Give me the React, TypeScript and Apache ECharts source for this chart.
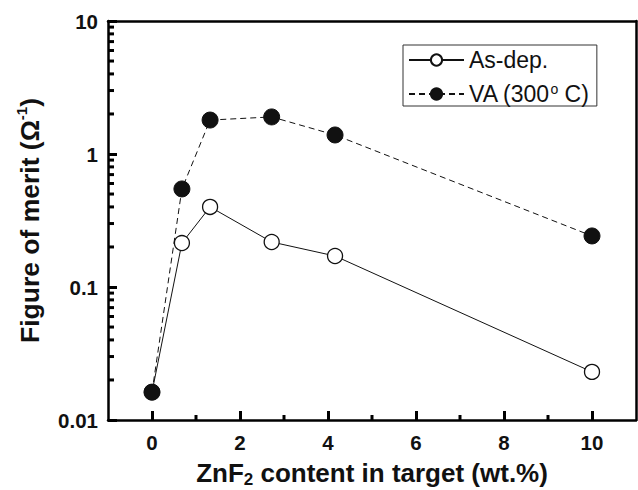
import React, { useEffect, useRef } from "react";
import * as echarts from "echarts";

const xAsDep = [0, 0.68, 1.32, 2.72, 4.16, 10];
const yAsDep = [0.0162, 0.214, 0.40, 0.218, 0.171, 0.023];
const xVA = [0, 0.68, 1.32, 2.72, 4.16, 10];
const yVA = [0.0162, 0.546, 1.80, 1.90, 1.39, 0.242];
const xMajorTicks = [0, 2, 4, 6, 8, 10];
const xMinorTicks = [1, 3, 5, 7, 9];
const yMinorTicks = [
  0.02, 0.03, 0.04, 0.05, 0.06, 0.07, 0.08, 0.09,
  0.2, 0.3, 0.4, 0.5, 0.6, 0.7, 0.8, 0.9,
  2, 3, 4, 5, 6, 7, 8, 9,
];
const seriesNames = ["As-dep.", "VA (300° C)"];

const FONT = "'Liberation Sans', Arial, Helvetica, sans-serif";
const X_MIN = -1;
const X_MAX = 11;
const Y_MIN = 0.01;
const Y_MAX = 10;

export default function App() {
  const ref = useRef<HTMLDivElement>(null);
  useEffect(() => {
    if (!ref.current) return;
    const chart = echarts.init(ref.current, null, { renderer: "svg" });
    const option: any = {
      animation: false,
      textStyle: { fontFamily: FONT },
      grid: {
        left: 108,
        top: 21,
        right: 2,
        bottom: 70,
        outerBoundsMode: "none",
      },
      legend: {
        data: seriesNames,
        left: 403,
        top: 45,
        orient: "vertical",
        itemWidth: 55,
        itemHeight: 14,
        itemGap: 10,
        itemTextGap: 8,
        padding: [3, 8, 0, 5],
        borderColor: "#333",
        borderWidth: 1,
        formatter: (name: string) =>
          name === seriesNames[1] ? "VA (300{sup|o} C)" : name,
        textStyle: {
          fontFamily: FONT,
          fontSize: 23,
          color: "#111",
          lineHeight: 24,
          rich: {
            sup: { fontFamily: FONT, fontSize: 14, lineHeight: 14, verticalAlign: "top", color: "#111" },
          },
        },
      },
      xAxis: [
        {
          type: "value",
          position: "bottom",
          min: X_MIN,
          max: X_MAX,
          interval: 1,
          axisLine: { show: true, onZero: false, lineStyle: { color: "#000", width: 2.5 } },
          axisTick: {
            show: true,
            inside: true,
            length: 9,
            customValues: xMajorTicks,
            lineStyle: { width: 3, color: "#000" },
          },
          splitLine: { show: false },
          axisLabel: {
            customValues: xMajorTicks,
            fontFamily: FONT,
            fontWeight: "bold",
            fontSize: 20.5,
            color: "#111",
            margin: 12,
          },
          name: "ZnF{sub|2} content in target (wt.%)",
          nameLocation: "middle",
          nameGap: 37,
          nameTextStyle: {
            fontFamily: FONT,
            fontWeight: "bold",
            fontSize: 26,
            color: "#111",
            lineHeight: 30,
            rich: {
              sub: { fontFamily: FONT, fontWeight: "bold", fontSize: 17, lineHeight: 17, verticalAlign: "bottom", color: "#111" },
            },
          },
        },
        {
          type: "value",
          position: "top",
          min: X_MIN,
          max: X_MAX,
          interval: 1,
          axisLine: { show: true, onZero: false, lineStyle: { color: "#000", width: 2.5 } },
          axisTick: { show: false },
          axisLabel: { show: false },
          splitLine: { show: false },
        },
      ],
      yAxis: [
        {
          type: "log",
          logBase: 10,
          min: Y_MIN,
          max: Y_MAX,
          position: "left",
          axisLine: { show: true, onZero: false, lineStyle: { color: "#000", width: 2.5 } },
          axisTick: { show: true, inside: true, length: 9, lineStyle: { width: 3, color: "#000" } },
          splitLine: { show: false },
          axisLabel: { fontFamily: FONT, fontWeight: "bold", fontSize: 20.5, color: "#111", margin: 10 },
          name: "Figure of merit (Ω{sup|-1})",
          nameLocation: "middle",
          nameGap: 62,
          nameTextStyle: {
            fontFamily: FONT,
            fontWeight: "bold",
            fontSize: 26.5,
            color: "#111",
            lineHeight: 32,
            rich: {
              sup: { fontFamily: FONT, fontWeight: "bold", fontSize: 15, lineHeight: 15, verticalAlign: "top", color: "#111" },
            },
          },
        },
        {
          type: "log",
          logBase: 10,
          min: Y_MIN,
          max: Y_MAX,
          position: "right",
          axisLine: { show: true, onZero: false, lineStyle: { color: "#000", width: 2.5 } },
          axisTick: { show: false },
          axisLabel: { show: false },
          splitLine: { show: false },
        },
      ],
      series: [
        {
          type: "custom",
          name: "yMinor",
          clip: false,
          xAxisIndex: 0,
          yAxisIndex: 0,
          data: yMinorTicks.map((v) => [X_MIN, v]),
          renderItem: (params: any, api: any) => {
            const p = api.coord([api.value(0), api.value(1)]);
            return {
              type: "line",
              shape: { x1: p[0], y1: p[1], x2: p[0] + 6, y2: p[1] },
              style: { stroke: "#000", lineWidth: 3 },
            };
          },
        },
        {
          type: "custom",
          name: "xMinor",
          clip: false,
          xAxisIndex: 0,
          yAxisIndex: 0,
          data: xMinorTicks.map((v) => [v, Y_MIN]),
          renderItem: (params: any, api: any) => {
            const p = api.coord([api.value(0), api.value(1)]);
            return {
              type: "line",
              shape: { x1: p[0], y1: p[1], x2: p[0], y2: p[1] - 5 },
              style: { stroke: "#000", lineWidth: 3 },
            };
          },
        },
        {
          type: "line",
          name: seriesNames[0],
          xAxisIndex: 0,
          yAxisIndex: 0,
          data: xAsDep.map((x, i) => [x, yAsDep[i]]),
          symbol: "circle",
          symbolSize: 15,
          lineStyle: { color: "#111", width: 1, type: "solid" },
          itemStyle: { color: "#fff", borderColor: "#111", borderWidth: 1.3 },
        },
        {
          type: "line",
          name: seriesNames[1],
          xAxisIndex: 0,
          yAxisIndex: 0,
          data: xVA.map((x, i) => [x, yVA[i]]),
          symbol: "circle",
          symbolSize: 16,
          lineStyle: { color: "#111", width: 1, type: [6, 4] },
          itemStyle: { color: "#111", borderColor: "#111", borderWidth: 1 },
        },
      ],
    };
    chart.setOption(option);
    return () => chart.dispose();
  }, []);
  return (
    <div
      ref={ref}
      style={{ position: "fixed", left: 0, top: 0, width: 638, height: 490, background: "#fff" }}
    />
  );
}
